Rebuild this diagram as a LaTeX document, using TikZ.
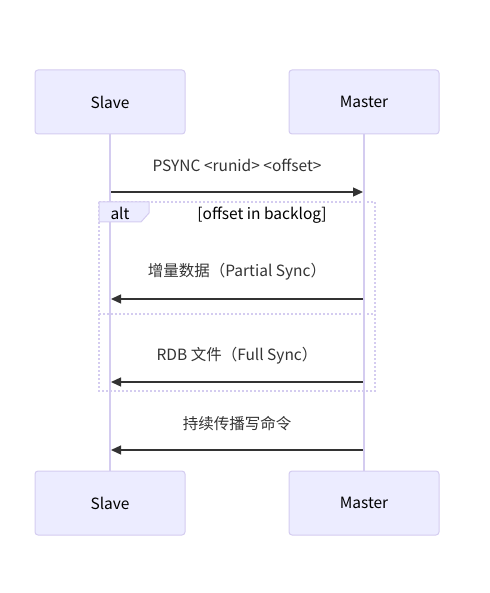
\documentclass[tikz,border=0pt]{standalone}
\usepackage{fontspec}
\setmainfont{Noto Sans CJK SC}
\usetikzlibrary{positioning,arrows.meta}
\definecolor{actfill}{HTML}{ECECFF}
\definecolor{actline}{HTML}{D4CCF0}
\definecolor{msgcol}{HTML}{333333}
\tikzset{
  actor/.style={draw=actline,fill=actfill,rounded corners=3pt,line width=1pt,
    minimum width=150pt,minimum height=64pt,font=\fontsize{15.5}{17}\selectfont},
  life/.style={draw=actline,line width=1.5pt},
  msg/.style={draw=msgcol,line width=1.3pt,-{Triangle[length=10pt,width=9pt]}},
  msgtext/.style={text=msgcol,font=\fontsize{15.5}{17}\selectfont},
  altline/.style={draw=actline,line width=1.6pt,dash pattern=on 2pt off 2pt}
}
\begin{document}
\begin{tikzpicture}[x=1pt,y=-1pt]
	\useasboundingbox (0,0) rectangle (489,593);
	\node[actor] (slavetop) at (110,102) {Slave};
	\node[actor] (mastertop) at (364,102) {Master};
	\node[actor] (slavebot) at (110,503) {Slave};
	\node[actor] (masterbot) at (364,503) {Master};
	\draw[life] (slavetop) -- (slavebot);
	\draw[life] (mastertop) -- (masterbot);
	% points on the lifelines
	\foreach \n/\y in {1/192,2/299,3/382,4/450} {
		\coordinate (s\n) at (111,\y);
		\coordinate (m\n) at (363,\y);
	}
	% alt frame
	\draw[altline] (99,202) rectangle (375,391);
	\draw[altline] (99,314) -- (375,314);
	\draw[draw=actline,fill=actfill,line width=1pt] (99,202) -- (149,202) -- (149,213) -- (141,222) -- (99,222) -- cycle;
	\node[font=\fontsize{15.5}{17}\selectfont] (altlbl) at (120,213) {alt};
	\node[font=\fontsize{15.5}{17}\selectfont] (cond) at (262,215) {[offset in backlog]};
	% messages
	\draw[msg] (s1) -- (m1) node[msgtext,midway,above=16pt]{PSYNC <runid> <offset>};
	\draw[msg] (m2) -- (s2) node[msgtext,midway,above=15pt]{增量数据（Partial Sync）};
	\draw[msg] (m3) -- (s3) node[msgtext,midway,above=14pt]{RDB 文件（Full Sync）};
	\draw[msg] (m4) -- (s4) node[msgtext,midway,above=15pt]{持续传播写命令};
\end{tikzpicture}
\end{document}
